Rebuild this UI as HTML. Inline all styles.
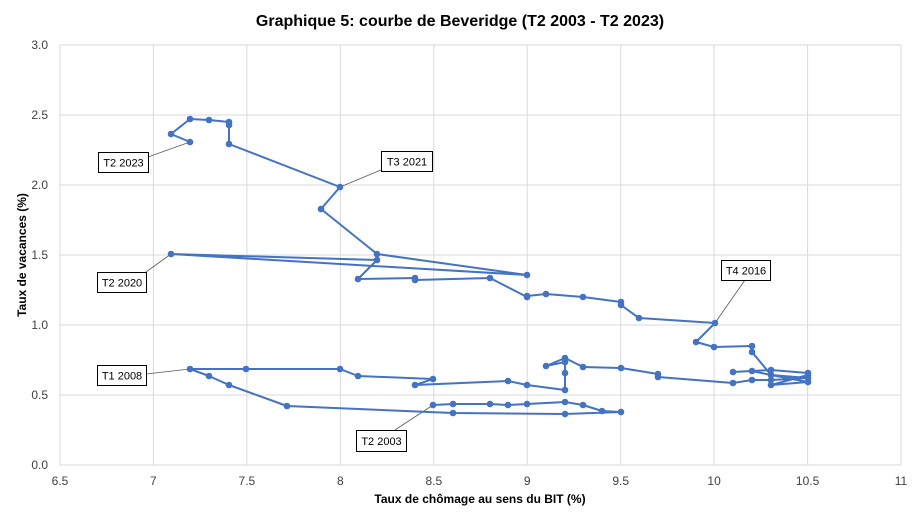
<!DOCTYPE html>
<html><head><meta charset="utf-8"><style>
body{margin:0;background:#fff;}
svg{display:block;font-family:"Liberation Sans",sans-serif;}
</style></head><body>
<svg width="921" height="521" viewBox="0 0 921 521">
<rect width="921" height="521" fill="#fff"/>
<text x="460" y="26" text-anchor="middle" font-size="16" font-weight="bold" fill="#000">Graphique 5: courbe de Beveridge (T2 2003 - T2 2023)</text>
<g stroke="#d9d9d9" stroke-width="1">
<line x1="60" y1="45" x2="901" y2="45"/><line x1="60" y1="115" x2="901" y2="115"/><line x1="60" y1="185" x2="901" y2="185"/><line x1="60" y1="255" x2="901" y2="255"/><line x1="60" y1="325" x2="901" y2="325"/><line x1="60" y1="395" x2="901" y2="395"/><line x1="60" y1="465" x2="901" y2="465"/>
<line x1="60" y1="45" x2="60" y2="465"/><line x1="153.4" y1="45" x2="153.4" y2="465"/><line x1="246.9" y1="45" x2="246.9" y2="465"/><line x1="340.3" y1="45" x2="340.3" y2="465"/><line x1="433.8" y1="45" x2="433.8" y2="465"/><line x1="527.2" y1="45" x2="527.2" y2="465"/><line x1="620.7" y1="45" x2="620.7" y2="465"/><line x1="714.1" y1="45" x2="714.1" y2="465"/><line x1="807.6" y1="45" x2="807.6" y2="465"/><line x1="901" y1="45" x2="901" y2="465"/>
</g>
<g font-size="12" fill="#404040" text-anchor="end">
<text x="48" y="49">3.0</text><text x="48" y="119">2.5</text><text x="48" y="189">2.0</text><text x="48" y="259">1.5</text><text x="48" y="329">1.0</text><text x="48" y="399">0.5</text><text x="48" y="469">0.0</text>
</g>
<g font-size="12" fill="#404040" text-anchor="middle">
<text x="60" y="485">6.5</text><text x="153.4" y="485">7</text><text x="246.9" y="485">7.5</text><text x="340.3" y="485">8</text><text x="433.8" y="485">8.5</text><text x="527.2" y="485">9</text><text x="620.7" y="485">9.5</text><text x="714.1" y="485">10</text><text x="807.6" y="485">10.5</text><text x="901" y="485">11</text>
</g>
<text x="480" y="503" text-anchor="middle" font-size="12" font-weight="bold" fill="#000">Taux de chômage au sens du BIT (%)</text>
<text transform="translate(26,255) rotate(-90)" text-anchor="middle" font-size="12" font-weight="bold" fill="#000">Taux de vacances (%)</text>
<g stroke="#595959" stroke-width="0.8">
<line x1="148" y1="157" x2="190" y2="142"/>
<line x1="381" y1="170" x2="340" y2="187"/>
<line x1="146" y1="272" x2="171" y2="254"/>
<line x1="745" y1="280" x2="715" y2="323"/>
<line x1="146" y1="374" x2="190" y2="369"/>
<line x1="395" y1="430" x2="433" y2="405"/>
</g>
<polyline fill="none" stroke="#4472c4" stroke-width="2" stroke-linejoin="round" points="433,405 453,404 490,404 508,405 527,404 565,402 583,405 602,411 621,412 565,414 453,413 287,406 229,385 209,376 190,369 246,369 340,369 358,376 433,379 415,385 508,381 527,385 565,390 565,373 565,362 546,366 565,358 583,367 621,368 658,374 658,377 733,383 752,380 771,380 808,378 771,375 752,371 733,372 771,370 808,373 808,375 771,385 808,382 771,375 752,352 752,346 714,347 696,342 715,323 639,318 621,305 621,302 583,297 546,294 527,296 527,297 490,278 415,280 415,278 358,279 377,260 171,254 527,275 377,254 321,209 340,187 229,144 229,125 229,122 209,120 190,119 171,134 190,142"/>
<g fill="#4472c4">
<circle cx="433" cy="405" r="3.3"/><circle cx="453" cy="404" r="3.3"/><circle cx="490" cy="404" r="3.3"/><circle cx="508" cy="405" r="3.3"/><circle cx="527" cy="404" r="3.3"/><circle cx="565" cy="402" r="3.3"/><circle cx="583" cy="405" r="3.3"/><circle cx="602" cy="411" r="3.3"/><circle cx="621" cy="412" r="3.3"/><circle cx="565" cy="414" r="3.3"/><circle cx="453" cy="413" r="3.3"/><circle cx="287" cy="406" r="3.3"/><circle cx="229" cy="385" r="3.3"/><circle cx="209" cy="376" r="3.3"/><circle cx="190" cy="369" r="3.3"/><circle cx="246" cy="369" r="3.3"/><circle cx="340" cy="369" r="3.3"/><circle cx="358" cy="376" r="3.3"/><circle cx="433" cy="379" r="3.3"/><circle cx="415" cy="385" r="3.3"/><circle cx="508" cy="381" r="3.3"/><circle cx="527" cy="385" r="3.3"/><circle cx="565" cy="390" r="3.3"/><circle cx="565" cy="373" r="3.3"/><circle cx="565" cy="362" r="3.3"/><circle cx="546" cy="366" r="3.3"/><circle cx="565" cy="358" r="3.3"/><circle cx="583" cy="367" r="3.3"/><circle cx="621" cy="368" r="3.3"/><circle cx="658" cy="374" r="3.3"/><circle cx="658" cy="377" r="3.3"/><circle cx="733" cy="383" r="3.3"/><circle cx="752" cy="380" r="3.3"/><circle cx="771" cy="380" r="3.3"/><circle cx="808" cy="378" r="3.3"/><circle cx="771" cy="375" r="3.3"/><circle cx="752" cy="371" r="3.3"/><circle cx="733" cy="372" r="3.3"/><circle cx="771" cy="370" r="3.3"/><circle cx="808" cy="373" r="3.3"/><circle cx="808" cy="375" r="3.3"/><circle cx="771" cy="385" r="3.3"/><circle cx="808" cy="382" r="3.3"/><circle cx="752" cy="352" r="3.3"/><circle cx="752" cy="346" r="3.3"/><circle cx="714" cy="347" r="3.3"/><circle cx="696" cy="342" r="3.3"/><circle cx="715" cy="323" r="3.3"/><circle cx="639" cy="318" r="3.3"/><circle cx="621" cy="305" r="3.3"/><circle cx="621" cy="302" r="3.3"/><circle cx="583" cy="297" r="3.3"/><circle cx="546" cy="294" r="3.3"/><circle cx="527" cy="296" r="3.3"/><circle cx="527" cy="297" r="3.3"/><circle cx="490" cy="278" r="3.3"/><circle cx="415" cy="280" r="3.3"/><circle cx="415" cy="278" r="3.3"/><circle cx="358" cy="279" r="3.3"/><circle cx="377" cy="260" r="3.3"/><circle cx="171" cy="254" r="3.3"/><circle cx="527" cy="275" r="3.3"/><circle cx="377" cy="254" r="3.3"/><circle cx="321" cy="209" r="3.3"/><circle cx="340" cy="187" r="3.3"/><circle cx="229" cy="144" r="3.3"/><circle cx="229" cy="125" r="3.3"/><circle cx="229" cy="122" r="3.3"/><circle cx="209" cy="120" r="3.3"/><circle cx="190" cy="119" r="3.3"/><circle cx="171" cy="134" r="3.3"/><circle cx="190" cy="142" r="3.3"/>
</g>
<g fill="#fff" stroke="#000" stroke-width="1">
<rect x="98.5" y="152.5" width="50" height="20"/>
<rect x="381.5" y="151.5" width="51" height="20"/>
<rect x="97.5" y="272.5" width="49" height="20"/>
<rect x="721.5" y="260.5" width="49" height="20"/>
<rect x="97.5" y="365.5" width="49" height="20"/>
<rect x="356.5" y="430.5" width="50" height="21"/>
</g>
<g font-size="11" fill="#000" text-anchor="middle">
<text x="123.5" y="166.5">T2 2023</text>
<text x="407" y="165.5">T3 2021</text>
<text x="122" y="286.5">T2 2020</text>
<text x="746" y="274.5">T4 2016</text>
<text x="122" y="379.5">T1 2008</text>
<text x="381.5" y="445">T2 2003</text>
</g>
</svg>
</body></html>
